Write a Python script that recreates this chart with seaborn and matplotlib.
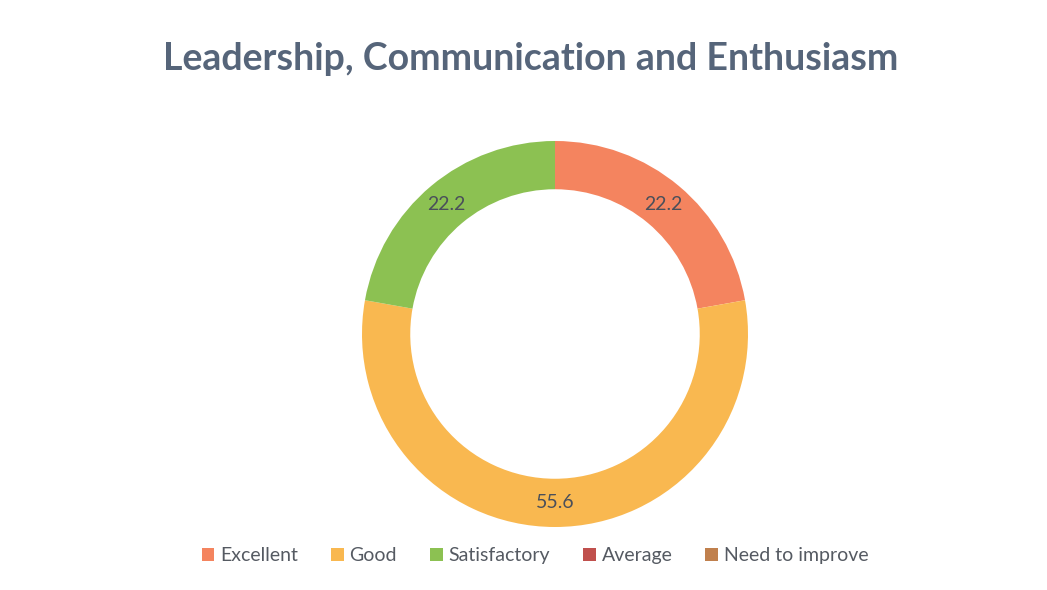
import matplotlib
matplotlib.use('Agg')
import matplotlib.pyplot as plt
import seaborn as sns
import numpy as np
from matplotlib.patches import Patch

# data
categories = ['Excellent', 'Good', 'Satisfactory', 'Average', 'Need to improve']
values = [22.2, 55.6, 22.2, 0.0, 0.0]
colors = ['#F4845F', '#F9B850', '#8CC152', '#C0504D', '#C0804D']
title = 'Leadership, Communication and Enthusiasm'

sns.set_theme(style='white')
plt.rcParams['font.family'] = ['Lato', 'DejaVu Sans']
palette = sns.color_palette(colors)

fig = plt.figure(figsize=(10.47, 5.9), dpi=100)
fig.patch.set_facecolor('white')

# donut axes placed so that the ring sits like in the reference
r_px = 193
cx, cy = 555, 590 - 334
ax = fig.add_axes([(cx - r_px) / 1047, (cy - r_px) / 590, 2 * r_px / 1047, 2 * r_px / 590])

wedges, _ = ax.pie(values, colors=palette, startangle=90, counterclock=False,
                   radius=1.0, wedgeprops=dict(width=0.25, edgecolor='none'))
ax.set_xlim(-1, 1)
ax.set_ylim(-1, 1)
ax.set_aspect('equal')
ax.axis('off')

# value labels at the middle of the ring
start = 90.0
total = sum(values)
for v in values:
    if v <= 0:
        continue
    span = 360.0 * v / total
    mid = np.deg2rad(start - span / 2)
    rr = 0.875
    ax.text(rr * np.cos(mid), rr * np.sin(mid), f'{v:.1f}', ha='center', va='center',
            fontsize=14, color='#4A4F5A')
    start -= span

fig.text(0.507, 0.9, title, ha='center', va='center', fontsize=27,
         fontweight='bold', color='#56657A')

handles = [Patch(facecolor=c, edgecolor='none') for c in palette]
fig.legend(handles, categories, loc='center', bbox_to_anchor=(0.511, 0.058), ncol=5,
           frameon=False, fontsize=14, handlelength=0.65, handleheight=0.65,
           handletextpad=0.3, columnspacing=1.7, labelcolor='#555A62')

fig.savefig('out.png', dpi=100, facecolor='white')
